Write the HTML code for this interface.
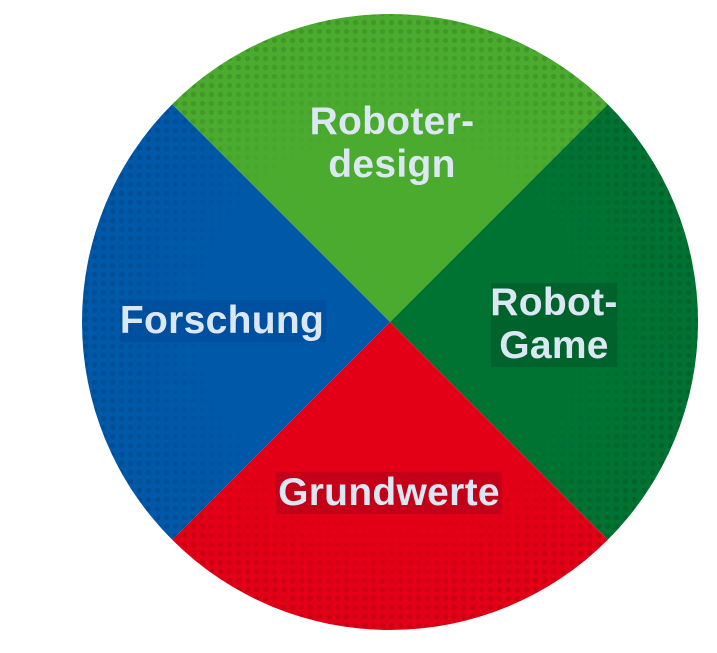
<!DOCTYPE html>
<html><head><style>
body{margin:0;background:#fff;width:717px;height:653px;overflow:hidden;position:relative;font-family:"Liberation Sans",sans-serif}
.l{position:absolute;color:#dbe7f2;font-weight:bold;font-size:39px;line-height:43px;text-align:center;letter-spacing:0.3px}
</style></head><body>
<svg width="717" height="653" style="position:absolute;left:0;top:0">
<defs>
<pattern id="d" width="9" height="9" patternUnits="userSpaceOnUse"><circle cx="4.5" cy="4.5" r="2.6" fill="#000" opacity="0.12"/></pattern>
<radialGradient id="m" cx="390" cy="322" r="308" gradientUnits="userSpaceOnUse"><stop offset="0.6" stop-color="#fff" stop-opacity="0"/><stop offset="1" stop-color="#fff" stop-opacity="1"/></radialGradient>
<mask id="mk"><circle cx="390" cy="322" r="308" fill="url(#m)"/></mask>
</defs>
<path d="M390 322 L172.2 104.2 A308 308 0 0 1 607.8 104.2 Z" fill="#4aab2e"/>
<path d="M390 322 L607.8 104.2 A308 308 0 0 1 607.8 539.8 Z" fill="#007232"/>
<path d="M390 322 L607.8 539.8 A308 308 0 0 1 172.2 539.8 Z" fill="#e30016"/>
<path d="M390 322 L172.2 539.8 A308 308 0 0 1 172.2 104.2 Z" fill="#0058a8"/>
<circle cx="390" cy="322" r="308" fill="url(#d)" mask="url(#mk)"/>
<rect x="120" y="300" width="206" height="42" fill="#00489a" opacity="0.5"/>
<rect x="491" y="283" width="126" height="84" fill="#005a28" opacity="0.6"/>
<rect x="276" y="472" width="226" height="42" fill="#b5001a" opacity="0.7"/>
</svg>
<div class="l" style="left:272px;top:100px;width:240px">Roboter-<br>design</div>
<div class="l" style="left:102px;top:299px;width:240px">Forschung</div>
<div class="l" style="left:474px;top:281px;width:160px">Robot-<br>Game</div>
<div class="l" style="left:259px;top:471px;width:260px">Grundwerte</div>
</body></html>
